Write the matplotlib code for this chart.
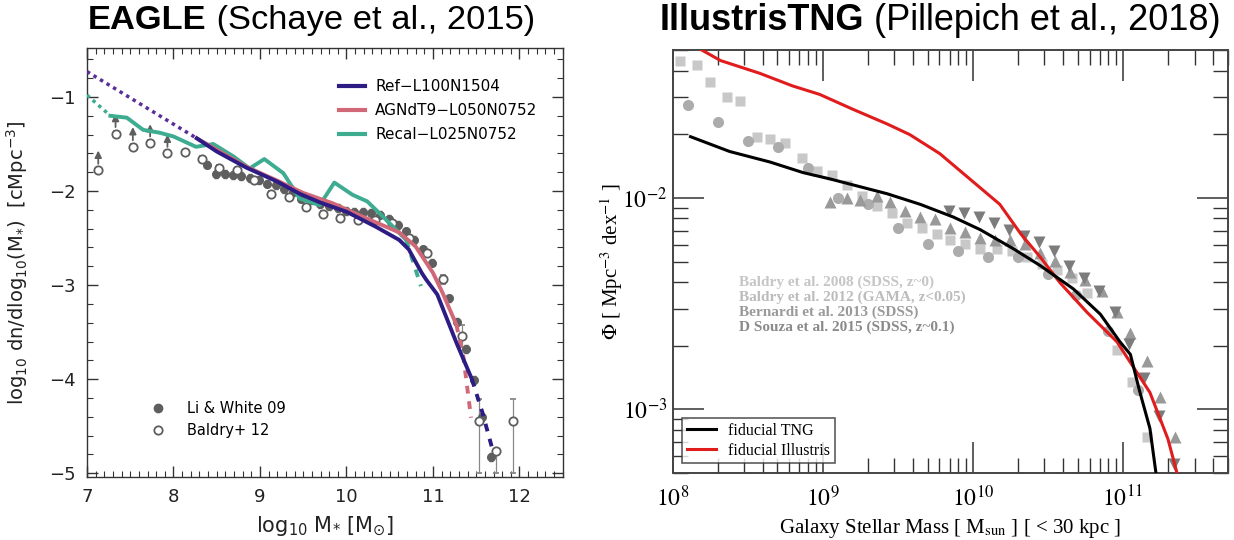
import matplotlib
matplotlib.use("Agg")
import matplotlib.pyplot as plt
import numpy as np
from matplotlib.lines import Line2D
from matplotlib.ticker import MultipleLocator, LogLocator, NullFormatter

# ---------------- EAGLE panel data (log10 M*, log10 dn/dlogM) ----------------
ref_dot_x = [7.0, 8.27]
ref_dot_y = [-0.73, -1.44]
ref_x = [8.27, 8.5, 8.84, 9.2, 9.46, 9.69, 10.0, 10.34, 10.61, 10.72, 10.87, 10.92, 11.05, 11.27, 11.45]
ref_y = [-1.44, -1.58, -1.75, -1.90, -2.03, -2.12, -2.22, -2.38, -2.52, -2.62, -2.87, -2.94, -3.10, -3.61, -4.0]
ref_dash_x = [11.45, 11.57, 11.68]
ref_dash_y = [-4.0, -4.35, -4.72]

agn_x = [8.27, 8.84, 9.2, 9.5, 9.84, 10.23, 10.61, 10.80, 11.0, 11.11, 11.27]
agn_y = [-1.44, -1.74, -1.89, -2.02, -2.13, -2.29, -2.44, -2.59, -2.87, -3.08, -3.42]
agn_dash_x = [11.27, 11.35, 11.44]
agn_dash_y = [-3.42, -3.75, -4.41]

recal_dot_x = [7.0, 7.27]
recal_dot_y = [-0.98, -1.20]
recal_x = [7.27, 7.46, 7.65, 7.84, 8.0, 8.26, 8.46, 8.69, 8.88, 9.05, 9.27, 9.46, 9.69,
           9.86, 10.07, 10.24, 10.42, 10.69]
recal_y = [-1.20, -1.22, -1.35, -1.38, -1.42, -1.53, -1.50, -1.63, -1.76, -1.66, -1.81, -2.08, -2.15,
           -1.91, -2.04, -2.11, -2.27, -2.52]
recal_dash_x = [10.69, 10.86]
recal_dash_y = [-2.52, -3.01]

li_x = [8.39, 8.49, 8.59, 8.69, 8.78, 8.88, 8.99, 9.08, 9.18, 9.28, 9.38, 9.48, 9.59, 9.69, 9.80,
        9.90, 9.99, 10.09, 10.19, 10.28, 10.39, 10.49, 10.59, 10.69, 10.78, 10.89, 10.99, 11.18,
        11.28, 11.38, 11.48, 11.57, 11.67]
li_y = [-1.72, -1.82, -1.82, -1.83, -1.84, -1.86, -1.88, -1.92, -1.94, -1.98, -2.01, -2.08, -2.10,
        -2.14, -2.16, -2.18, -2.21, -2.22, -2.22, -2.23, -2.25, -2.30, -2.36, -2.43, -2.52, -2.62,
        -2.76, -3.14, -3.39, -3.68, -4.01, -4.40, -4.83]

bal_x = [7.13, 7.33, 7.53, 7.73, 7.93, 8.13, 8.33, 8.53, 8.73, 8.93, 9.13, 9.33, 9.53, 9.73, 9.93,
         10.13, 10.33, 10.53, 10.72, 10.93, 11.12, 11.33, 11.53, 11.73, 11.93]
bal_y = [-1.78, -1.39, -1.53, -1.49, -1.60, -1.59, -1.66, -1.75, -1.78, -1.88, -2.03, -2.06, -2.17,
         -2.24, -2.29, -2.31, -2.31, -2.34, -2.50, -2.66, -2.94, -3.54, -4.45, -4.76, -4.45]
bal_err_lo = [0.03] * 20 + [0.05, 0.12, 0.55, 0.24, 0.55]
bal_err_hi = [0.03] * 20 + [0.05, 0.12, 0.24, 0.01, 0.24]
arrow_tip = [-1.54, -1.15, -1.29, -1.26, -1.37]  # lower limits for the first 5 Baldry points

# ---------------- IllustrisTNG panel data (log10 M, log10 Phi) ----------------
tng_m = [8.12, 8.38, 8.65, 8.87, 9.05, 9.43, 9.65, 9.87, 10.05, 10.27, 10.45, 10.67, 10.85, 10.98,
         11.05, 11.11, 11.18, 11.22]
tng_phi = [-1.71, -1.78, -1.83, -1.88, -1.91, -1.98, -2.03, -2.09, -2.15, -2.24, -2.32, -2.43, -2.55,
           -2.68, -2.74, -2.91, -3.09, -3.30]
ill_m = [8.12, 8.32, 8.58, 8.80, 8.98, 9.20, 9.43, 9.58, 9.78, 9.98, 10.18, 10.32, 10.45, 10.58,
         10.76, 10.96, 11.07, 11.18, 11.30, 11.36]
ill_phi = [-1.27, -1.35, -1.41, -1.47, -1.51, -1.58, -1.65, -1.70, -1.79, -1.91, -2.03, -2.17, -2.28,
           -2.40, -2.54, -2.68, -2.80, -2.92, -3.14, -3.30]

sq_m = [8.05, 8.16, 8.25, 8.36, 8.45, 8.56, 8.65, 8.75, 8.86, 8.96, 9.06, 9.16, 9.26, 9.36, 9.46,
        9.56, 9.66, 9.76, 9.85, 9.95, 10.05, 10.16, 10.26, 10.36, 10.46, 10.56, 10.66, 10.76, 10.96,
        11.06, 11.16]
sq_phi = [-1.35, -1.37, -1.45, -1.52, -1.54, -1.71, -1.72, -1.74, -1.81, -1.87, -1.89, -1.94, -1.99,
          -2.04, -2.07, -2.12, -2.14, -2.17, -2.20, -2.22, -2.24, -2.24, -2.25, -2.28, -2.31, -2.34,
          -2.38, -2.45, -2.72, -2.87, -3.13]
circ_m = [8.10, 8.30, 8.50, 8.70, 8.90, 9.10, 9.30, 9.50, 9.70, 9.90, 10.10, 10.30, 10.50, 10.69,
          10.90, 11.10]
circ_phi = [-1.56, -1.64, -1.73, -1.76, -1.86, -2.00, -2.03, -2.14, -2.22, -2.25, -2.28, -2.28, -2.36,
            -2.46, -2.63, -2.91]
up_m = [9.05, 9.16, 9.25, 9.36, 9.45, 9.55, 9.65, 9.75, 9.85, 9.95, 10.05, 10.15, 10.25, 10.35, 10.45,
        10.55, 10.65, 10.75, 10.86, 10.96, 11.05, 11.16, 11.25, 11.35]
up_phi = [-2.02, -2.00, -2.01, -1.99, -2.02, -2.06, -2.09, -2.10, -2.14, -2.16, -2.19, -2.20, -2.20,
          -2.22, -2.26, -2.30, -2.35, -2.39, -2.44, -2.54, -2.64, -2.77, -2.94, -3.13]
down_m = [9.84, 9.94, 10.04, 10.14, 10.24, 10.34, 10.44, 10.54, 10.64, 10.74, 10.84, 10.95, 11.04,
          11.14, 11.24, 11.34]
down_phi = [-2.06, -2.07, -2.09, -2.12, -2.15, -2.18, -2.21, -2.25, -2.32, -2.38, -2.44, -2.54, -2.69,
            -2.85, -3.03, -3.26]

obs_labels = ["Baldry et al. 2008 (SDSS, z~0)", "Baldry et al. 2012 (GAMA, z<0.05)",
              "Bernardi et al. 2013 (SDSS)", "D Souza et al. 2015 (SDSS, z~0.1)"]
obs_text_colors = ["#c6c6c6", "#bcbcbc", "#9a9a9a", "#8a8a8a"]

c_ref = "#2c1c84"
c_agn = "#d06878"
c_recal = "#3dac90"
c_obs = "#5e5e5e"

fig = plt.figure(figsize=(12.34, 5.4), dpi=100)

# ================= left: EAGLE =================
sans = ["DejaVu Sans"]
ax1 = fig.add_axes([0.0705, 0.1167, 0.3855, 0.7943])

ax1.errorbar(li_x, li_y, yerr=0.04, fmt="o", ms=5.5, color=c_obs, mec=c_obs, elinewidth=0.8,
             capsize=1.5, zorder=2)
ax1.errorbar(bal_x, bal_y, yerr=[bal_err_lo, bal_err_hi], fmt="o", ms=6, mfc="white", mec=c_obs,
             mew=1.3, ecolor="#888888", elinewidth=0.9, capsize=2, zorder=2)
for x0, y0, yt in zip(bal_x[:5], bal_y[:5], arrow_tip):
    ax1.annotate("", xy=(x0, yt), xytext=(x0, y0 + 0.04),
                 arrowprops=dict(arrowstyle="-|>", color=c_obs, lw=1.3, mutation_scale=10),
                 zorder=2)

ax1.plot(ref_dot_x, ref_dot_y, color="#5a2e98", lw=2.5, ls=(0, (1, 1.2)), zorder=3)
ax1.plot(recal_dot_x, recal_dot_y, color=c_recal, lw=2.5, ls=(0, (1, 1.2)), zorder=3)
ax1.plot(recal_x, recal_y, color=c_recal, lw=2.8, zorder=3)
ax1.plot(recal_dash_x, recal_dash_y, color=c_recal, lw=2.8, ls=(0, (2, 2)), zorder=3)
ax1.plot(agn_x, agn_y, color=c_agn, lw=2.8, zorder=4)
ax1.plot(agn_dash_x, agn_dash_y, color=c_agn, lw=2.8, ls=(0, (2, 2)), zorder=4)
ax1.plot(ref_x, ref_y, color=c_ref, lw=2.8, zorder=5)
ax1.plot(ref_dash_x, ref_dash_y, color=c_ref, lw=2.8, ls=(0, (2, 2)), zorder=5)

ax1.set_xlim(7, 12.5)
ax1.set_ylim(-5.04, -0.48)
ax1.xaxis.set_major_locator(MultipleLocator(1))
ax1.xaxis.set_minor_locator(MultipleLocator(0.1))
ax1.yaxis.set_minor_locator(MultipleLocator(0.2))
ax1.tick_params(which="both", direction="in", top=True, right=True, color="#333333",
                labelsize=13, pad=8, labelcolor="#222222")
ax1.tick_params(which="major", length=8, width=1)
ax1.tick_params(which="minor", length=4, width=0.8)
ax1.set_xticks([7, 8, 9, 10, 11, 12])
ax1.set_xticklabels(["7", "8", "9", "10", "11", "12"])
ax1.set_yticks([-1, -2, -3, -4, -5])
ax1.set_yticklabels(["\u22121", "\u22122", "\u22123", "\u22124", "\u22125"])
for lab in ax1.get_xticklabels() + ax1.get_yticklabels():
    lab.set_family(sans)
for s in ax1.spines.values():
    s.set_color("#333333")
    s.set_linewidth(1)
ax1.set_xlabel(r"log$_{10}$ M$_{*}$ [M$_{\odot}$]", fontsize=15, family=sans, color="#222222",
               labelpad=6)
ax1.set_ylabel(r"log$_{10}$ dn/dlog$_{10}$(M$_{*}$)  [cMpc$^{-3}$]", fontsize=14, family=sans,
               color="#222222")
ax1.yaxis.set_label_coords(-0.12, 0.5)

sim_handles = [Line2D([], [], color=c, lw=3) for c in (c_ref, c_agn, c_recal)]
leg1 = ax1.legend(sim_handles, ["Ref\u2212L100N1504", "AGNdT9\u2212L050N0752", "Recal\u2212L025N0752"],
                  loc="upper left", bbox_to_anchor=(0.5, 0.96), frameon=False, handlelength=1.7,
                  handletextpad=0.7, labelspacing=0.6, prop={"family": sans, "size": 11})
ax1.add_artist(leg1)
obs_handles = [Line2D([], [], ls="none", marker="o", ms=6, color=c_obs),
               Line2D([], [], ls="none", marker="o", ms=6, mfc="white", mec=c_obs, mew=1.3)]
ax1.legend(obs_handles, ["Li & White 09", "Baldry+ 12"], loc="lower left",
           bbox_to_anchor=(0.09, 0.06), frameon=False, handletextpad=1.0,
           prop={"family": sans, "size": 10.5})

# ================= right: IllustrisTNG =================
serif = ["Liberation Serif", "DejaVu Serif"]
ax2 = fig.add_axes([0.545, 0.124, 0.450, 0.783])
ax2.set_xscale("log")
ax2.set_yscale("log")

ax2.plot(10 ** np.array(sq_m), 10 ** np.array(sq_phi), "s", ms=7, color="#c8c8c8", mec="none", zorder=2)
ax2.plot(10 ** np.array(circ_m), 10 ** np.array(circ_phi), "o", ms=8, color="#acacac", mec="none", zorder=2)
ax2.plot(10 ** np.array(up_m), 10 ** np.array(up_phi), "^", ms=9, color="#999999", mec="none", zorder=2)
ax2.plot(10 ** np.array(down_m), 10 ** np.array(down_phi), "v", ms=9, color="#7c7c7c", mec="none", zorder=2)

ax2.plot(10 ** np.array(tng_m), 10 ** np.array(tng_phi), color="black", lw=2.2, label="fiducial TNG",
         zorder=4)
ax2.plot(10 ** np.array(ill_m), 10 ** np.array(ill_phi), color="#e01c1c", lw=2.2,
         label="fiducial Illustris", zorder=3)

ax2.set_xlim(1e8, 5e11)
ax2.set_ylim(5e-4, 5e-2)
ax2.xaxis.set_minor_locator(LogLocator(base=10, subs=np.arange(2, 10), numticks=20))
ax2.yaxis.set_minor_locator(LogLocator(base=10, subs=np.arange(2, 10), numticks=20))
ax2.xaxis.set_minor_formatter(NullFormatter())
ax2.yaxis.set_minor_formatter(NullFormatter())
ax2.set_xticks([1e8, 1e9, 1e10, 1e11])
ax2.set_xticklabels([r"$10^{8}$", r"$10^{9}$", r"$10^{10}$", r"$10^{11}$"])
ax2.set_yticks([1e-3, 1e-2])
ax2.set_yticklabels([r"$10^{-3}$", r"$10^{-2}$"])
ax2.tick_params(which="both", direction="in", top=True, right=True, color="#333333", labelsize=17)
ax2.tick_params(axis="x", pad=9)
ax2.tick_params(axis="y", pad=4)
ax2.tick_params(which="major", length=22, width=1.1)
ax2.tick_params(which="minor", length=11, width=1)
for lab in ax2.get_xticklabels() + ax2.get_yticklabels():
    lab.set_family(serif)
    lab.set_math_fontfamily("stix")
for s in ax2.spines.values():
    s.set_color("#444444")
    s.set_linewidth(1.4)
xl = ax2.set_xlabel(r"Galaxy Stellar Mass [ M$_{\rm sun}$ ] [ < 30 kpc ]", fontsize=15, family=serif,
                    labelpad=4)
xl.set_math_fontfamily("stix")
yl = ax2.set_ylabel(r"$\Phi$ [ Mpc$^{-3}$ dex$^{-1}$ ]", fontsize=15, family=serif)
yl.set_math_fontfamily("stix")
ax2.yaxis.set_label_coords(-0.085, 0.5)

for i, (t, c) in enumerate(zip(obs_labels, obs_text_colors)):
    ax2.text(0.12, 0.4515 - i * 0.0355, t, transform=ax2.transAxes, color=c, fontsize=11,
             family=serif, fontweight="bold", va="center")

leg2 = ax2.legend(loc="lower left", bbox_to_anchor=(0.0, 0.0), frameon=True, fancybox=False,
                  handlelength=1.8, borderpad=0.3, labelspacing=0.25, borderaxespad=0.6,
                  prop={"family": serif, "size": 11.5})
leg2.get_frame().set_edgecolor("#333333")
leg2.get_frame().set_linewidth(1.2)

# ================= titles: bold name followed by regular reference =================
title_sans = ["Liberation Sans", "DejaVu Sans"]
fig.canvas.draw()
renderer = fig.canvas.get_renderer()
for x0, size, bold, rest in [(88, 24.8, "EAGLE", " (Schaye et al., 2015)"),
                             (660, 26, "IllustrisTNG", " (Pillepich et al., 2018)")]:
    t1 = fig.text(x0 / 1234, 0.962, bold, fontsize=size, family=title_sans, fontweight="bold",
                  va="center", ha="left")
    bb = t1.get_window_extent(renderer)
    fig.text(bb.x1 / 1234, 0.962, rest, fontsize=size, family=title_sans, va="center", ha="left")

fig.savefig("out.png", dpi=100)
